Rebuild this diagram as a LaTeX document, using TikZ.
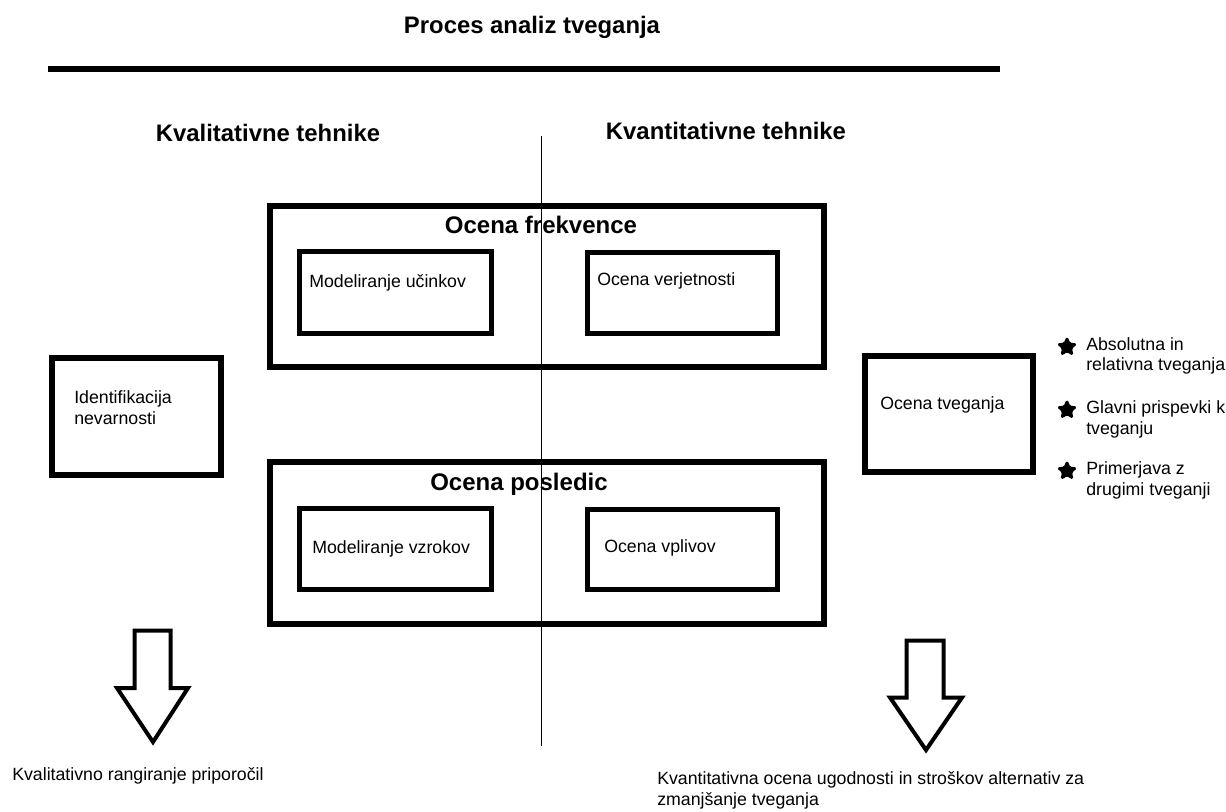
\documentclass[tikz,border=0pt]{standalone}
\usepackage{fontspec}
\setmainfont{Liberation Sans}
\usetikzlibrary{shapes.geometric}
\begin{document}
\begin{tikzpicture}[x=0.75pt,y=-0.75pt,
  heavy/.style={draw=black,line width=4.5pt,fill=white,inner sep=0pt},
  inner/.style={draw=black,line width=3.6pt,fill=white,inner sep=0pt},
  heading/.style={font=\fontsize{17.9}{21}\selectfont\bfseries,inner sep=0pt},
  boxtitle/.style={font=\fontsize{18}{21}\selectfont\bfseries,inner sep=0pt},
  label/.style={font=\fontsize{13.3}{15.6}\selectfont,inner sep=0pt,anchor=west,align=left},
  bigarrow/.style={draw=black,line width=3pt,fill=white,line join=miter},
  bullet/.style={star,star points=5,star point ratio=2.2,fill=black,draw=black,line width=0.9pt,line join=round,rounded corners=1.2pt,minimum size=15pt,inner sep=0pt}
]
\useasboundingbox (0,0) rectangle (1226,811);
\fill[white] (0,0) rectangle (1226,811);

% title and rule
\node[heading] (title) at (532,27) {Proces analiz tveganja};
\coordinate (ruleL) at (48,69);
\coordinate (ruleR) at (1000,69);
\draw[line width=3.8pt] (ruleL) -- (ruleR);

% column headings
\node[heading] (qual) at (268,133) {Kvalitativne tehnike};
\node[heading] (quant) at (726,131) {Kvantitativne tehnike};

% frequency assessment
\node[heavy,minimum width=415.5pt,minimum height=120.75pt] (freq) at (547,286.5) {};
\node[boxtitle] (freqT) at (541,225) {Ocena frekvence};
\node[inner,minimum width=144pt,minimum height=61.5pt] (eff) at (395.5,292.5) {};
\node[label] (effT) at (309,283) {Modeliranje učinkov};
\node[inner,minimum width=142.5pt,minimum height=60.75pt] (prob) at (682.5,293) {};
\node[label] (probT) at (597,281) {Ocena verjetnosti};

% consequence assessment
\node[heavy,minimum width=415.5pt,minimum height=121.5pt] (cons) at (547,543) {};
\node[boxtitle] (consT) at (519,484) {Ocena posledic};
\node[inner,minimum width=144pt,minimum height=60.75pt] (cause) at (395.5,549) {};
\node[label] (causeT) at (312,549) {Modeliranje vzrokov};
\node[inner,minimum width=142.5pt,minimum height=60pt] (impact) at (682.5,549.5) {};
\node[label] (impactT) at (604,548) {Ocena vplivov};

% hazard identification
\node[heavy,minimum width=126.75pt,minimum height=87.75pt] (haz) at (136.5,416.5) {};
\node[label] (hazT) at (74,407.5) {Identifikacija\\nevarnosti};

% risk assessment
\node[heavy,minimum width=126pt,minimum height=87pt] (risk) at (949,414) {};
\node[label] (riskT) at (880,405) {Ocena tveganja};

% results list
\node[bullet] (b1) at (1067,347) {};
\node[label] (r1) at (1086,356) {Absolutna in\\relativna tveganja};
\node[bullet] (b2) at (1067,410) {};
\node[label] (r2) at (1086,419.5) {Glavni prispevki k\\tveganju};
\node[bullet] (b3) at (1067,471) {};
\node[label] (r3) at (1086,480.5) {Primerjava z\\drugimi tveganji};

% outcome arrows
\draw[bigarrow] (134.5,630.5) -- (170.5,630.5) -- (170.5,688) -- (188,688)
  -- (153,742) -- (117,688) -- (134.5,688) -- cycle;
\draw[bigarrow] (906.5,640.5) -- (943.5,640.5) -- (943.5,697.5) -- (962,697.5)
  -- (926,750) -- (890,697.5) -- (906.5,697.5) -- cycle;

\node[label] (outL) at (12,776) {Kvalitativno rangiranje priporočil};
\node[label] (outR) at (657,790.5) {Kvantitativna ocena ugodnosti in stroškov alternativ za\\zmanjšanje tveganja};

% divider between the two columns
\coordinate (divTop) at (541,136);
\coordinate (divBot) at (541,746);
\draw[line width=0.75pt] (divTop) -- (divBot);
\end{tikzpicture}
\end{document}
